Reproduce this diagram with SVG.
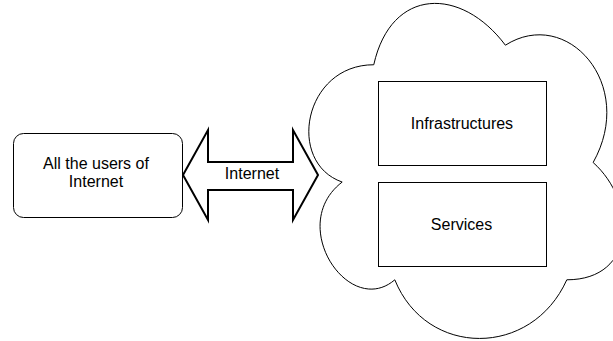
<svg xmlns="http://www.w3.org/2000/svg" width="613" height="341" viewBox="0 0 613 341">
<style>
.s{fill:#fff;stroke:#000;stroke-width:1}
.t{font-family:"Liberation Sans",Arial,sans-serif;font-size:16px;fill:#000;text-anchor:middle}
</style>
<rect width="613" height="341" fill="#fff"/>
<g id="users">
<rect class="s" x="13.5" y="133.5" width="169" height="84" rx="10"/>
<text class="t" x="96" y="168.5">All the users of</text>
<text class="t" x="96" y="187">Internet</text>
</g>
<g id="connectors">
<path d="M183,175 L208,130 L208,162 L293,162 L293,130 L318,175 L293,220 L293,190 L208,190 L208,220 Z" fill="#fff" stroke="#000" stroke-width="2" stroke-linejoin="miter"/>
<text class="t" x="252" y="178.5">Internet</text>
</g>
<g id="cloud">
<path class="s" transform="translate(286,-33)" d="M87.75,97.75 C17.55,97.75 0,195.5 56.16,215.05 C0,258.06 63.18,351.9 108.81,312.8 C140.4,391 245.7,391 280.8,312.8 C351,312.8 351,234.6 307.13,195.5 C351,117.3 280.8,39.1 219.38,78.2 C175.5,19.55 105.3,19.55 87.75,97.75 Z"/>
</g>
<g id="infrastructures">
<rect class="s" x="378.5" y="81.5" width="168" height="84"/>
<text class="t" x="462" y="128.5">Infrastructures</text>
</g>
<g id="services">
<rect class="s" x="378.5" y="182.5" width="168" height="84"/>
<text class="t" x="461.5" y="229.5">Services</text>
</g>
</svg>
